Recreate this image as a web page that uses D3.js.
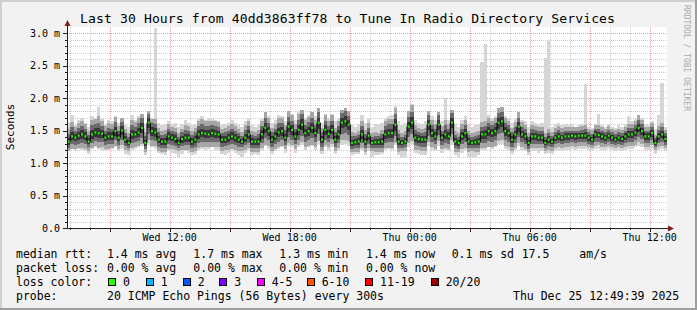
<!DOCTYPE html>
<html>
<head>
<meta charset="utf-8">
<title>smokeping - 40dd3863ff78</title>
<script src="https://d3js.org/d3.v7.min.js"></script>
<style>
  body { margin: 0; background: #f2f2f2; }
  text { font-family: "DejaVu Sans Mono", monospace; fill: #000; }
</style>
</head>
<body>
<svg id="chart"></svg>
<script>
// 10 minute steps, Wed 06:52 -> Thu 12:52
var startTime = new Date(2025, 11, 24, 6, 52, 0);
var endTime = new Date(2025, 11, 25, 12, 52, 0);
var stepMinutes = 10;

// median rtt (ms)
var median = [
  1.33,1.41,1.39,1.42,1.44,1.41,1.33,1.44,1.47,1.46,
  1.45,1.39,1.41,1.41,1.49,1.39,1.50,1.36,1.31,1.44,
  1.44,1.47,1.54,1.31,1.62,1.49,1.47,1.36,1.33,1.33,
  1.41,1.39,1.37,1.31,1.37,1.39,1.39,1.33,1.36,1.44,
  1.46,1.45,1.44,1.46,1.45,1.44,1.36,1.36,1.39,1.41,
  1.39,1.36,1.33,1.39,1.44,1.33,1.33,1.33,1.44,1.54,
  1.49,1.36,1.41,1.47,1.49,1.39,1.56,1.51,1.41,1.51,
  1.59,1.46,1.49,1.54,1.46,1.62,1.36,1.51,1.45,1.51,
  1.36,1.44,1.62,1.64,1.59,1.31,1.32,1.33,1.44,1.33,
  1.42,1.31,1.32,1.32,1.33,1.44,1.46,1.46,1.59,1.33,
  1.31,1.33,1.56,1.62,1.39,1.37,1.36,1.36,1.59,1.46,
  1.41,1.59,1.39,1.44,1.41,1.62,1.33,1.31,1.41,1.46,
  1.33,1.31,1.32,1.33,1.44,1.44,1.49,1.46,1.49,1.62,
  1.64,1.49,1.46,1.36,1.44,1.56,1.44,1.41,1.31,1.41,
  1.41,1.39,1.39,1.31,1.36,1.33,1.39,1.41,1.39,1.41,
  1.41,1.42,1.41,1.42,1.42,1.42,1.39,1.36,1.44,1.43,
  1.41,1.39,1.42,1.39,1.36,1.39,1.37,1.41,1.44,1.44,
  1.47,1.54,1.49,1.41,1.41,1.46,1.31,1.41,1.44,1.37
];

// slowest ping of each step (ms)
var pingMax = [
  1.62,1.74,1.58,1.66,1.70,1.62,1.55,1.72,1.70,1.86,
  1.68,1.60,1.66,1.64,1.72,1.62,1.70,1.58,1.56,1.74,
  1.66,1.72,1.76,1.60,1.80,1.70,3.08,1.62,1.58,1.60,
  1.64,1.60,1.62,1.56,1.60,1.66,1.62,1.58,1.60,1.68,
  1.72,1.66,1.70,1.68,1.66,1.64,1.58,1.60,1.62,1.66,
  1.62,1.58,1.56,1.64,1.70,1.58,1.55,1.60,1.68,1.78,
  1.72,1.62,1.66,1.74,1.72,1.64,1.80,1.76,1.66,1.78,
  1.82,1.70,1.74,1.78,1.72,1.84,1.62,1.76,1.70,1.76,
  1.64,1.70,1.82,1.84,1.80,1.58,1.56,1.60,1.74,1.62,
  1.70,1.56,1.60,1.58,1.62,1.70,1.72,1.74,1.88,1.64,
  1.58,1.62,1.80,1.91,1.66,1.62,1.60,1.64,1.80,1.72,
  1.66,1.78,1.64,2.00,1.66,1.82,1.60,1.56,1.66,1.72,
  1.60,1.56,1.58,1.60,2.55,2.83,1.74,1.70,1.72,1.84,
  1.86,1.72,1.70,1.62,1.68,1.78,1.66,1.64,1.56,1.64,
  1.62,1.60,1.62,2.62,2.88,1.56,1.60,1.62,1.58,1.60,
  1.58,1.60,1.56,1.58,1.60,2.22,1.56,1.54,1.60,1.76,
  1.58,1.56,1.60,1.56,1.54,1.58,1.55,1.60,1.73,1.64,
  1.68,1.74,1.70,1.60,1.58,1.64,1.52,1.74,2.23,1.56
];

// fastest ping of each step (ms)
var pingMin = [
  1.18,1.22,1.20,1.22,1.20,1.18,1.14,1.22,1.24,1.22,
  1.20,1.18,1.20,1.22,1.24,1.18,1.22,1.14,1.12,1.20,
  1.22,1.24,1.26,1.12,1.28,1.24,1.22,1.16,1.14,1.12,
  1.18,1.16,1.14,1.10,1.14,1.18,1.16,1.12,1.14,1.20,
  1.22,1.20,1.22,1.24,1.20,1.20,1.14,1.12,1.16,1.18,
  1.16,1.12,1.10,1.16,1.20,1.12,1.14,1.12,1.20,1.26,
  1.22,1.14,1.18,1.22,1.24,1.16,1.26,1.24,1.16,1.24,
  1.28,1.20,1.24,1.26,1.20,1.30,1.14,1.24,1.20,1.24,
  1.14,1.20,1.28,1.30,1.26,1.12,1.14,1.14,1.20,1.12,
  1.18,1.10,1.12,1.12,1.14,1.20,1.22,1.20,1.28,1.12,
  1.08,1.10,1.24,1.30,1.16,1.14,1.12,1.12,1.26,1.20,
  1.18,1.26,1.16,1.20,1.18,1.28,1.12,1.10,1.16,1.20,
  1.10,1.08,1.10,1.12,1.20,1.20,1.24,1.22,1.24,1.30,
  1.30,1.22,1.20,1.14,1.20,1.26,1.20,1.18,1.12,1.18,
  1.18,1.16,1.18,1.14,1.16,1.14,1.18,1.20,1.18,1.20,
  1.20,1.22,1.20,1.22,1.22,1.22,1.20,1.18,1.22,1.22,
  1.20,1.20,1.22,1.20,1.18,1.20,1.18,1.20,1.22,1.22,
  1.24,1.26,1.24,1.20,1.20,1.22,1.14,1.20,1.22,1.18
];

// spread of the dense pings above / below the median (ms)
var spreadUp = [
  .12,.14,.10,.12,.13,.12,.10,.14,.13,.16,
  .12,.11,.13,.12,.14,.11,.13,.10,.09,.14,
  .12,.14,.15,.10,.14,.12,.13,.11,.10,.11,
  .12,.10,.11,.09,.10,.12,.11,.10,.11,.13,
  .14,.12,.13,.12,.12,.12,.10,.11,.11,.12,
  .11,.10,.09,.12,.13,.10,.09,.11,.13,.15,
  .13,.11,.12,.14,.13,.12,.15,.14,.12,.15,
  .16,.13,.14,.15,.13,.16,.11,.14,.12,.14,
  .11,.13,.15,.16,.14,.10,.09,.10,.13,.11,
  .12,.09,.10,.09,.11,.13,.14,.14,.16,.11,
  .09,.10,.15,.17,.12,.11,.10,.11,.15,.13,
  .12,.15,.11,.14,.12,.15,.10,.09,.12,.13,
  .10,.09,.10,.10,.12,.13,.13,.12,.13,.15,
  .15,.13,.12,.11,.12,.14,.12,.11,.09,.11,
  .10,.10,.10,.09,.10,.09,.09,.10,.09,.09,
  .09,.08,.09,.08,.09,.10,.08,.09,.09,.10,
  .09,.08,.09,.08,.09,.08,.09,.09,.10,.10,
  .11,.12,.11,.09,.09,.10,.08,.10,.11,.09
];
var spreadDown = [
  .10,.12,.11,.12,.13,.12,.09,.13,.13,.14,
  .13,.11,.12,.11,.14,.11,.14,.10,.08,.13,
  .12,.13,.15,.09,.17,.14,.13,.11,.10,.10,
  .12,.11,.11,.08,.11,.12,.12,.10,.11,.13,
  .13,.13,.12,.13,.13,.12,.11,.10,.12,.12,
  .12,.11,.09,.12,.13,.10,.10,.10,.13,.16,
  .14,.11,.12,.14,.14,.11,.16,.15,.12,.15,
  .17,.13,.14,.16,.13,.18,.11,.15,.13,.14,
  .11,.13,.17,.18,.16,.09,.09,.10,.13,.10,
  .12,.08,.09,.09,.10,.13,.14,.14,.18,.10,
  .08,.09,.16,.18,.12,.11,.11,.11,.17,.13,
  .12,.16,.11,.13,.12,.17,.10,.09,.12,.14,
  .10,.08,.09,.10,.13,.13,.15,.13,.14,.18,
  .18,.14,.13,.11,.13,.16,.12,.12,.09,.11,
  .11,.10,.10,.08,.10,.09,.10,.10,.10,.10,
  .10,.10,.10,.10,.10,.10,.09,.08,.11,.10,
  .10,.09,.10,.09,.08,.09,.09,.10,.11,.11,
  .12,.14,.12,.10,.10,.11,.07,.10,.11,.09
];

var yTicks = [0, 0.5, 1.0, 1.5, 2.0, 2.5, 3.0];
var yTickLabels = ["0.0", "0.5 m", "1.0 m", "1.5 m", "2.0 m", "2.5 m", "3.0 m"];
var xTickTimes = [new Date(2025, 11, 24, 12), new Date(2025, 11, 24, 18),
                  new Date(2025, 11, 25, 0), new Date(2025, 11, 25, 6), new Date(2025, 11, 25, 12)];
var xTickLabels = ["Wed 12:00", "Wed 18:00", "Thu 00:00", "Thu 06:00", "Thu 12:00"];

var rttStats = ["1.4 ms avg", "1.7 ms max", "1.3 ms min", "1.4 ms now", "0.1 ms sd", "17.5"];
var lossStats = ["0.00 % avg", "0.00 % max", "0.00 % min", "0.00 % now"];
var lossLabels = ["0", "1", "2", "3", "4-5", "6-10", "11-19", "20/20"];
var lossColors = ["#26ff00", "#00b8ff", "#0059ff", "#7e00ff", "#ff00ff", "#ff5500", "#ff0000", "#a00000"];

var width = 697, height = 310;
var plot = {left: 67, right: 667, top: 27, bottom: 228};

var svg = d3.select("#chart").attr("width", width).attr("height", height);

// frame
svg.append("rect").attr("width", width).attr("height", height).attr("fill", "#f2f2f2");
svg.append("rect").attr("x", 0).attr("y", 0).attr("width", width).attr("height", 2).attr("fill", "#cfcfcf");
svg.append("rect").attr("x", 0).attr("y", 0).attr("width", 2).attr("height", height).attr("fill", "#cfcfcf");
svg.append("rect").attr("x", width - 2).attr("y", 0).attr("width", 2).attr("height", height).attr("fill", "#9e9e9e");
svg.append("rect").attr("x", 0).attr("y", height - 2).attr("width", width).attr("height", 2).attr("fill", "#9e9e9e");

svg.append("rect")
  .attr("x", plot.left).attr("y", plot.top)
  .attr("width", plot.right - plot.left).attr("height", plot.bottom - plot.top)
  .attr("fill", "#ffffff");

var x = d3.scaleTime().domain([startTime, endTime]).range([plot.left, plot.right]);
var y = d3.scaleLinear().domain([0, 3.1]).range([plot.bottom, plot.bottom - 3.1 * 65]);

var times = median.map(function(d, i) {
  return d3.timeMinute.offset(startTime, i * stepMinutes);
});

// grid
var grid = svg.append("g").attr("shape-rendering", "crispEdges");
d3.range(1, 31).forEach(function(k) {
  var v = k / 10;
  var major = k % 5 == 0;
  grid.append("line")
    .attr("x1", plot.left).attr("x2", plot.right)
    .attr("y1", Math.round(y(v)) + 0.5).attr("y2", Math.round(y(v)) + 0.5)
    .attr("stroke", major ? "#eba0a0" : "#cdcdcd")
    .attr("stroke-dasharray", "1,1");
});
d3.timeHour.range(startTime, endTime).forEach(function(t) {
  var major = t.getHours() % 3 == 0;
  var px = Math.round(x(t)) + 0.5;
  grid.append("line")
    .attr("x1", px).attr("x2", px)
    .attr("y1", plot.top).attr("y2", plot.bottom)
    .attr("stroke", major ? "#eba0a0" : "#cdcdcd")
    .attr("stroke-dasharray", "1,1");
});

// smoke
var smoke = svg.append("g").attr("shape-rendering", "crispEdges");
var bands = [
  {col: "#d6d6d6", f: null},
  {col: "#a6a6a6", f: 1.6},
  {col: "#6a6a6a", f: 1.0},
  {col: "#383838", f: 0.5}
];
times.forEach(function(t, i) {
  var x0 = x(t), x1 = x(d3.timeMinute.offset(t, stepMinutes));
  bands.forEach(function(b) {
    var top, bot;
    if (b.f == null) { top = pingMax[i]; bot = pingMin[i]; }
    else {
      top = Math.min(pingMax[i], median[i] + spreadUp[i] * b.f);
      bot = Math.max(pingMin[i], median[i] - spreadDown[i] * b.f);
    }
    smoke.append("rect")
      .attr("x", x0).attr("width", x1 - x0)
      .attr("y", y(top)).attr("height", y(bot) - y(top))
      .attr("fill", b.col);
  });
});

// median line
var line = d3.line()
  .x(function(d, i) { return x(times[i]) + (x(times[1]) - x(times[0])) / 2; })
  .y(function(d) { return y(d); })
  .curve(d3.curveStep);
svg.append("path").datum(median)
  .attr("d", line).attr("fill", "none")
  .attr("stroke", "#000").attr("stroke-width", 1);

svg.append("g").selectAll("rect").data(median).enter().append("rect")
  .attr("x", function(d, i) { return x(times[i]) + 0.7; })
  .attr("y", function(d) { return y(d) - 1; })
  .attr("width", 2).attr("height", 2)
  .attr("fill", lossColors[0]);

// axes
var axis = svg.append("g").attr("shape-rendering", "crispEdges");
axis.append("line").attr("x1", plot.left + 0.5).attr("x2", plot.left + 0.5)
  .attr("y1", plot.bottom + 0.5).attr("y2", 24).attr("stroke", "#1f1f1f");
axis.append("line").attr("x1", plot.left - 4).attr("x2", plot.right + 3)
  .attr("y1", plot.bottom + 0.5).attr("y2", plot.bottom + 0.5).attr("stroke", "#1f1f1f");
d3.range(0, 31).forEach(function(k) {
  var py = Math.round(y(k / 10)) + 0.5;
  axis.append("line").attr("x1", plot.left - (k % 5 == 0 ? 4 : 2)).attr("x2", plot.left)
    .attr("y1", py).attr("y2", py).attr("stroke", "#1f1f1f");
});
d3.timeHour.range(startTime, endTime).forEach(function(t) {
  var px = Math.round(x(t)) + 0.5;
  axis.append("line").attr("x1", px).attr("x2", px)
    .attr("y1", plot.bottom).attr("y2", plot.bottom + (t.getHours() % 3 == 0 ? 4 : 2))
    .attr("stroke", "#1f1f1f");
});
svg.append("path")
  .attr("d", "M" + (plot.left + 0.5) + ",20 L" + (plot.left + 3.5) + ",26 L" + (plot.left - 2.5) + ",26 Z")
  .attr("fill", "#801f1f");
svg.append("path")
  .attr("d", "M674," + (plot.bottom + 0.5) + " L668," + (plot.bottom - 2.5) + " L668," + (plot.bottom + 3.5) + " Z")
  .attr("fill", "#801f1f");

svg.append("g").selectAll("text").data(yTicks).enter().append("text")
  .attr("x", 60).attr("y", function(d) { return y(d) + 3.5; })
  .attr("text-anchor", "end").attr("font-size", 10)
  .text(function(d, i) { return yTickLabels[i]; });

svg.append("g").selectAll("text").data(xTickTimes).enter().append("text")
  .attr("x", function(d) { return x(d); }).attr("y", 241)
  .attr("text-anchor", "middle").attr("font-size", 10)
  .text(function(d, i) { return xTickLabels[i]; });

// titles
svg.append("text").attr("x", 347.5).attr("y", 23).attr("text-anchor", "middle")
  .attr("font-size", 13.1)
  .attr("textLength", 535).attr("lengthAdjust", "spacing")
  .text("Last 30 Hours from 40dd3863ff78 to Tune In Radio Directory Services");
svg.append("text").attr("transform", "translate(14,127) rotate(-90)")
  .attr("text-anchor", "middle").attr("font-size", 11).text("Seconds");
svg.append("text").attr("transform", "translate(684,5) rotate(90)")
  .attr("font-size", 8).style("fill", "#aaaaaa").text("RRDTOOL / TOBI OETIKER");

// legend
var lx = [107, 193.3, 279.3, 366, 451.7, 521.7];
function legendText(tx, ty, s) {
  svg.append("text").attr("x", tx).attr("y", ty).attr("font-size", 11.5)
    .attr("xml:space", "preserve").text(s);
}
legendText(16, 258, "median rtt:");
rttStats.forEach(function(s, i) { legendText(lx[i], 258, s); });
legendText(579.3, 258, "am/s");
legendText(16, 272, "packet loss:");
lossStats.forEach(function(s, i) { legendText(lx[i], 272, s); });
legendText(16, 286, "loss color:");
var boxX = [108, 145.7, 182.7, 219.3, 256.7, 306.7, 365, 430.7];
lossLabels.forEach(function(s, i) {
  svg.append("rect").attr("x", Math.round(boxX[i]) + 0.5).attr("y", 278.5)
    .attr("width", 7).attr("height", 7)
    .attr("fill", lossColors[i]).attr("stroke", "#000");
  legendText(boxX[i] + 15, 286, s);
});
legendText(16, 300, "probe:");
legendText(107, 300, "20 ICMP Echo Pings (56 Bytes) every 300s");
legendText(513, 300, "Thu Dec 25 12:49:39 2025");
</script>
</body>
</html>
